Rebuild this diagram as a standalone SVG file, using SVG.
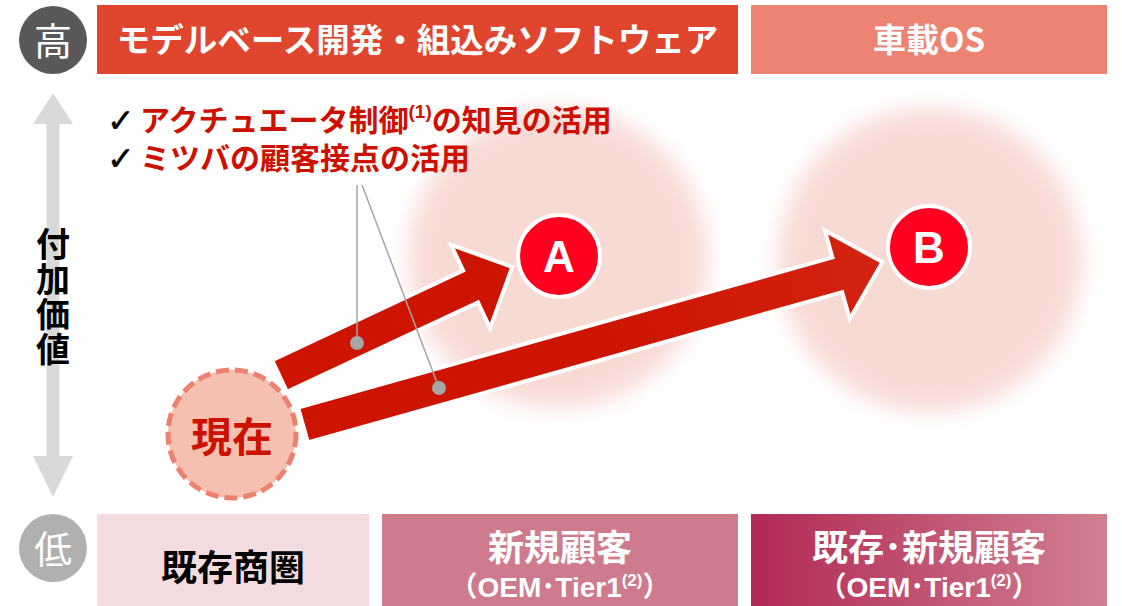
<svg xmlns="http://www.w3.org/2000/svg" width="1122" height="606" viewBox="0 0 1122 606">
<defs>
<filter id="soft" x="-30%" y="-30%" width="160%" height="160%"><feGaussianBlur stdDeviation="11"/></filter>
<linearGradient id="g3" x1="0" y1="0" x2="1" y2="0"><stop offset="0" stop-color="#b22955"/><stop offset="1" stop-color="#d08091"/></linearGradient>
<linearGradient id="ar2" gradientUnits="userSpaceOnUse" x1="300" y1="0" x2="880" y2="0"><stop offset="0" stop-color="#cc1400"/><stop offset="0.55" stop-color="#d42412"/><stop offset="1" stop-color="#cc1400"/></linearGradient>
<style>
text{font-family:"Liberation Sans","Noto Sans CJK JP",sans-serif;}
.jp{font-family:"Noto Sans CJK JP","Liberation Sans",sans-serif;font-weight:700;}
.lat{font-family:"Liberation Sans","Noto Sans CJK JP",sans-serif;font-weight:700;}
.w{fill:#ffffff;}
.red{fill:#cc1100;}
.chk{font-family:"DejaVu Sans",sans-serif;font-size:33px;fill:#000000;stroke:#000000;stroke-width:0.5px;}
.lead{stroke:#a6a6a6;stroke-width:1.5;fill:none;}
.dot{fill:#a6a6a6;}
.arrow{stroke:#ffffff;stroke-width:4;stroke-linejoin:miter;}
</style>
</defs>
<rect width="1122" height="606" fill="#ffffff"/>

<g id="bg-glow">
<circle cx="558" cy="258" r="150" fill="#f8dad5" filter="url(#soft)"/>
<circle cx="930" cy="260" r="152" fill="#f8dad5" filter="url(#soft)"/>
</g>

<g id="level-high">
<circle cx="53" cy="40" r="34" fill="#595959"/>
<text x="53" y="55" text-anchor="middle" font-size="38" class="w" style="font-family:'Noto Sans CJK JP',sans-serif">高</text>
</g>
<g id="top-mbd">
<rect x="97" y="5" width="641" height="69" fill="#e0452d"/>
<text x="417.5" y="52" text-anchor="middle" font-size="33.5" class="jp w">モデルベース開発・組込みソフトウェア</text>
</g>
<g id="top-os">
<rect x="751" y="5" width="356" height="69" fill="#ed8373"/>
<text x="929" y="52" text-anchor="middle" font-size="33" class="jp w">車載OS</text>
</g>

<g id="axis">
<polygon points="53,93 73,124 59.5,124 59.5,456 73,456 53,497 33,456 46.5,456 46.5,124 33,124" fill="#d9d9d9"/>
<text x="53" y="297" font-size="34" class="jp" fill="#000000" text-anchor="middle" writing-mode="tb" style="writing-mode:vertical-rl;text-orientation:upright;letter-spacing:1px">付加価値</text>
</g>

<g id="checklist">
<text x="107" y="132" class="chk">✓</text>
<text x="140" y="131" font-size="30" class="jp red">アクチュエータ制御<tspan class="lat" font-size="19" dy="-13">(1)</tspan><tspan dy="13">の知見の活用</tspan></text>
<text x="107" y="170" class="chk">✓</text>
<text x="140" y="169" font-size="30" class="jp red">ミツバの顧客接点の活用</text>
</g>

<g id="connectors">
<polygon class="arrow" fill="#cc1400" transform="translate(279.5,376) rotate(-25.1)" points="0,-17.5 211,-17.5 211,-46 257,0 211,46 211,17.5 0,17.5"/>
<polygon class="arrow" fill="url(#ar2)" transform="translate(303,425) rotate(-15.7)" points="0,-18 555,-18 555,-46 602,0 555,46 555,18 0,18"/>
<line class="lead" x1="357" y1="185" x2="357" y2="343"/>
<line class="lead" x1="362" y1="185" x2="439" y2="388"/>
<circle class="dot" cx="357" cy="343" r="7"/>
<circle class="dot" cx="439" cy="388" r="7"/>
</g>

<g id="node-A">
<circle cx="559" cy="256" r="41" fill="#ff0020" stroke="#ffffff" stroke-width="4"/>
<text x="559" y="272" text-anchor="middle" font-size="44" font-weight="700" class="w">A</text>
</g>
<g id="node-B">
<circle cx="929" cy="247" r="41" fill="#ff0020" stroke="#ffffff" stroke-width="4"/>
<text x="929" y="263" text-anchor="middle" font-size="44" font-weight="700" class="w">B</text>
</g>

<g id="node-now">
<circle cx="232" cy="434" r="64" fill="#f6c0b0" stroke="#ee8070" stroke-width="5" stroke-dasharray="13 6"/>
<text x="232" y="452" text-anchor="middle" font-size="41" class="jp red">現在</text>
</g>

<g id="level-low">
<circle cx="53" cy="548" r="34" fill="#b0b0b0"/>
<text x="53" y="563" text-anchor="middle" font-size="38" class="w" style="font-family:'Noto Sans CJK JP',sans-serif">低</text>
</g>
<g id="bottom-existing">
<rect x="97" y="514" width="272" height="92" fill="#f2dce0"/>
<text x="233" y="581" text-anchor="middle" font-size="36" class="jp" fill="#000000">既存商圏</text>
</g>
<g id="bottom-new">
<rect x="382" y="514" width="356" height="92" fill="#cd7b8d"/>
<text x="560" y="561" text-anchor="middle" font-size="36" class="jp w">新規顧客</text>
<text x="560" y="597" text-anchor="middle" font-size="28" class="lat w">（OEM･Tier1<tspan font-size="17" dy="-11">(2)</tspan><tspan dy="11">）</tspan></text>
</g>
<g id="bottom-both">
<rect x="751" y="514" width="356" height="92" fill="url(#g3)"/>
<text x="929" y="561" text-anchor="middle" font-size="36" class="jp w">既存･新規顧客</text>
<text x="929" y="597" text-anchor="middle" font-size="28" class="lat w">（OEM･Tier1<tspan font-size="17" dy="-11">(2)</tspan><tspan dy="11">）</tspan></text>
</g>
</svg>
